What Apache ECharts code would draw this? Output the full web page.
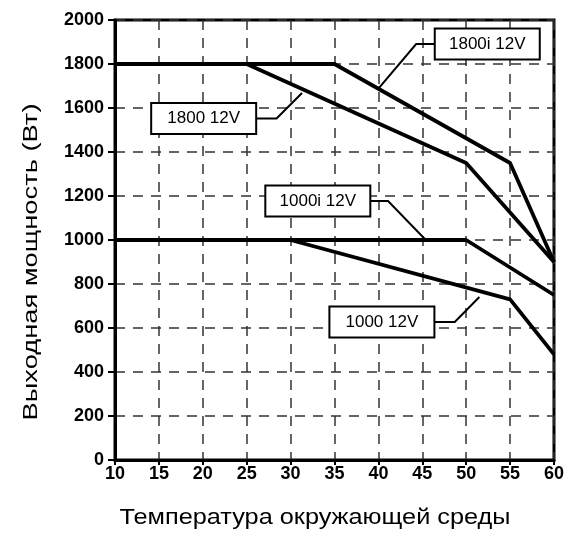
<!DOCTYPE html>
<html>
<head>
	<meta charset="utf-8" />
	<title>Выходная мощность</title>
	<script src="https://cdn.jsdelivr.net/npm/echarts@6/dist/echarts.min.js"></script>
	<style>
		body { margin: 0; background: #fff; }
	</style>
</head>
<body>
	<div id="main" style="width: 567px;height: 534px;"></div>
	<script type="text/javascript">

		// данные: [температура, мощность]
		var s1800i = [[10, 1800], [35, 1800], [55, 1350], [60, 900]];
		var s1800 = [[10, 1800], [25, 1800], [50, 1350], [60, 900]];
		var s1000i = [[10, 1000], [50, 1000], [60, 750]];
		var s1000 = [[10, 1000], [30, 1000], [55, 730], [60, 480]];

		// подписи: текст, центр рамки, x излома, точка на линии (в единицах осей)
		var labelNames = ['1800i 12V', '1800 12V', '1000i 12V', '1000 12V'];
		var labelBox = [[52.4, 1891], [20.1, 1552], [33.1, 1177], [40.4, 627]];
		var labelElbow = [44.3, 28.4, 41.1, 48.7];
		var labelAnchor = [[40, 1688], [31.3, 1668], [45.4, 1000], [51.5, 741]];

		var xTitle = 'Температура окружающей среды';
		var yTitle = 'Выходная мощность (Вт)';

		var myChart = echarts.init(document.getElementById("main"));

		function line(name, data) {
			return {
				name: name,
				type: 'line',
				data: data,
				symbol: 'none',
				lineStyle: { color: '#000', width: 3.8 },
				z: 3
			};
		}

		var dash = { color: '#333', width: 1.5, type: [10, 8] };

		var option = {
			backgroundColor: '#fff',
			animation: false,
			textStyle: { fontFamily: 'Liberation Sans, Arial, sans-serif' },
			grid: {
				left: 115, right: 10, top: 20, bottom: 74,
				show: true,
				borderColor: '#000',
				borderWidth: 3
			},
			xAxis: {
				type: 'value',
				min: 10, max: 60, interval: 5,
				axisLine: { lineStyle: { color: '#000', width: 3 } },
				axisTick: { show: true, length: 5, lineStyle: { color: '#000', width: 2 } },
				axisLabel: { color: '#000', fontSize: 18, fontWeight: 'bold', margin: 5 },
				splitLine: { show: true, lineStyle: dash }
			},
			yAxis: {
				type: 'value',
				min: 0, max: 2000, interval: 200,
				axisLine: { show: true, lineStyle: { color: '#000', width: 3 } },
				axisTick: { show: true, length: 7, lineStyle: { color: '#000', width: 2 } },
				axisLabel: { color: '#000', fontSize: 18, fontWeight: 'bold', margin: 11,
					formatter: function (v) { return String(v); } },
				splitLine: { show: true, lineStyle: dash }
			},
			series: [
				line('1800i 12V', s1800i),
				line('1800 12V', s1800),
				line('1000i 12V', s1000i),
				line('1000 12V', s1000)
			]
		};

		myChart.setOption(option);

		// выноски с подписями и названия осей
		var boxW = 105, boxH = 31;
		var elements = [];
		for (var i = 0; i < labelNames.length; i++) {
			var c = myChart.convertToPixel({ gridIndex: 0 }, labelBox[i]);
			var a = myChart.convertToPixel({ gridIndex: 0 }, labelAnchor[i]);
			var ex = myChart.convertToPixel({ gridIndex: 0 }, [labelElbow[i], labelBox[i][1]])[0];
			var edge = ex > c[0] ? c[0] + boxW / 2 : c[0] - boxW / 2;
			elements.push({
				type: 'polyline',
				shape: { points: [[edge, c[1]], [ex, c[1]], a] },
				style: { stroke: '#000', lineWidth: 2, fill: null },
				z: 10
			});
			elements.push({
				type: 'rect',
				shape: { x: c[0] - boxW / 2, y: c[1] - boxH / 2, width: boxW, height: boxH },
				style: { fill: '#fff', stroke: '#000', lineWidth: 2 },
				z: 11
			});
			elements.push({
				type: 'text',
				x: c[0], y: c[1],
				style: {
					text: labelNames[i],
					fill: '#000',
					font: '17px "Liberation Sans", Arial, sans-serif',
					align: 'center',
					verticalAlign: 'middle'
				},
				z: 12
			});
		}
		elements.push({
			type: 'text',
			x: 315, y: 518,
			scaleX: 1.15,
			style: {
				text: xTitle, fill: '#000',
				font: '22px "Liberation Sans", Arial, sans-serif',
				align: 'center', verticalAlign: 'middle'
			}
		});
		elements.push({
			type: 'text',
			x: 31, y: 262,
			rotation: Math.PI / 2,
			scaleX: 1.3,
			style: {
				text: yTitle, fill: '#000',
				font: '21px "Liberation Sans", Arial, sans-serif',
				align: 'center', verticalAlign: 'middle'
			}
		});
		myChart.setOption({ graphic: elements });

	</script>
</body>
</html>
